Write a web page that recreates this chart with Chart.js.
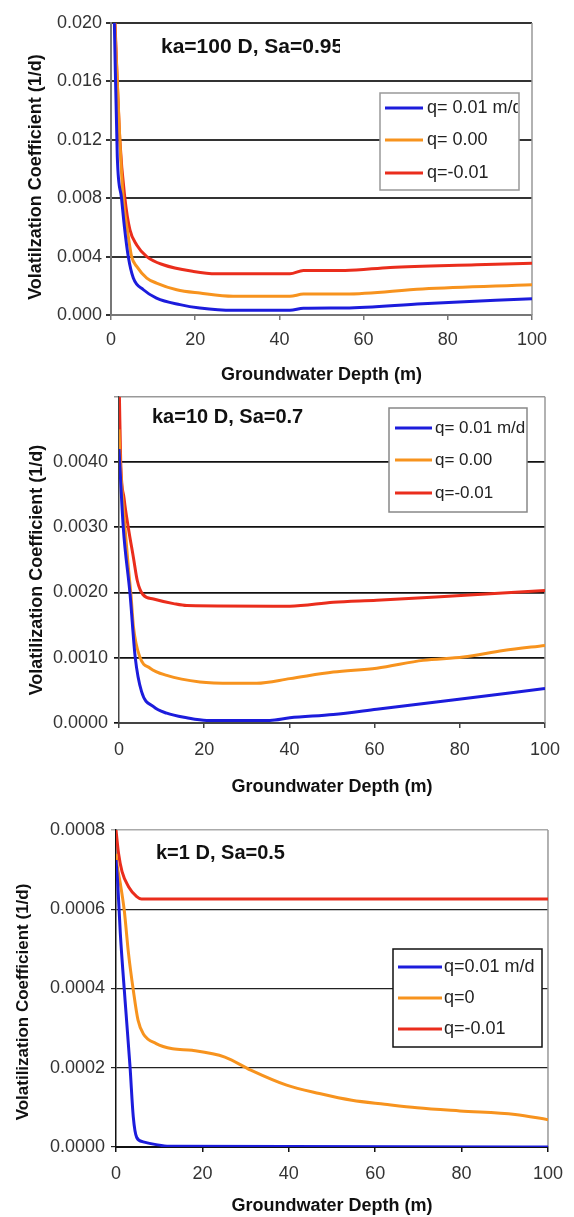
<!DOCTYPE html>
<html>
<head>
<meta charset="utf-8">
<script src="https://cdn.jsdelivr.net/npm/chart.js@4.4.0/dist/chart.umd.min.js"></script>
<style>
    body { margin: 0; background: #fff; width: 574px; height: 1217px; position: relative; overflow: hidden; }
    .panel { position: absolute; left: 0; width: 574px; }
</style>
</head>
<body>
<div class="panel" style="top:0;height:390px"><canvas id="chart1"></canvas></div>
<div class="panel" style="top:380px;height:420px"><canvas id="chart2"></canvas></div>
<div class="panel" style="top:800px;height:417px"><canvas id="chart3"></canvas></div>
<script>
// ---- data ----
const xTicks = [0, 20, 40, 60, 80, 100];

// Panel 1: ka=100 D, Sa=0.95
const labels1 = ['q= 0.01 m/d', 'q= 0.00', 'q=-0.01'];
const yTicks1 = [0, 0.004, 0.008, 0.012, 0.016, 0.020];
const blueDepth1 = [0.8, 1.5, 2.5, 3.2, 4.1, 5.3, 7.7, 10.8, 16.4, 21.1, 29, 42.5, 45.7, 55.6, 74, 100];
const blueVal1 = [0.020, 0.0108, 0.0080, 0.0060, 0.0040, 0.00253, 0.00173, 0.00116, 0.00071, 0.00048, 0.00032, 0.00032, 0.00046, 0.00048, 0.00077, 0.00112];
const orangeDepth1 = [0.9, 2.1, 2.9, 4.0, 4.9, 6.1, 8.5, 10.8, 15.6, 21.1, 29, 42.5, 45.7, 55.6, 74, 100];
const orangeVal1 = [0.020, 0.012, 0.008, 0.0056, 0.0040, 0.00333, 0.00253, 0.00219, 0.00173, 0.0015, 0.00128, 0.00128, 0.00143, 0.00143, 0.00178, 0.00207];
const redDepth1 = [0.95, 2.1, 3.3, 4.5, 6.1, 8.5, 12.4, 19.6, 25, 42.5, 45.7, 55.6, 66.3, 86.8, 100];
const redVal1 = [0.020, 0.012, 0.008, 0.00583, 0.0048, 0.0040, 0.00344, 0.00298, 0.00282, 0.00282, 0.00305, 0.00305, 0.00326, 0.00344, 0.00355];

// Panel 2: ka=10 D, Sa=0.7
const labels2 = ['q= 0.01 m/d', 'q= 0.00', 'q=-0.01'];
const yTicks2 = [0, 0.001, 0.002, 0.003, 0.004, 0.005];
const blueDepth2 = [0, 1.0, 2.6, 3.8, 5.3, 8.1, 11.2, 15.9, 20.6, 35.4, 40.1, 50.3, 60.5, 79.3, 100];
const blueVal2 = [0.0042, 0.0030, 0.00197, 0.00101, 0.00048, 0.00025, 0.00015, 0.00008, 0.00004, 0.00004, 0.00008, 0.00013, 0.00021, 0.00036, 0.00053];
const orangeDepth2 = [0, 0.3, 1.4, 2.2, 2.8, 3.4, 4.9, 7.3, 11.2, 19, 26.8, 32.3, 40.1, 50.3, 60.5, 71.4, 80.8, 90.2, 100];
const orangeVal2 = [0.0045, 0.0040, 0.0030, 0.00238, 0.00197, 0.00147, 0.00101, 0.00084, 0.00073, 0.00063, 0.00061, 0.00061, 0.00068, 0.00078, 0.00084, 0.00096, 0.00101, 0.00111, 0.00119];
const redDepth2 = [0.1, 0.4, 1.2, 2.2, 3.4, 4.3, 5.6, 8.1, 12.8, 15.9, 40.1, 50.3, 60.5, 79.3, 100];
const redVal2 = [0.0050, 0.0040, 0.00344, 0.00299, 0.00253, 0.00218, 0.00197, 0.0019, 0.00183, 0.0018, 0.00179, 0.00185, 0.00188, 0.00195, 0.00203];

// Panel 3: k=1 D, Sa=0.5
const labels3 = ['q=0.01 m/d', 'q=0', 'q=-0.01'];
const yTicks3 = [0, 0.0002, 0.0004, 0.0006, 0.0008];
const blueDepth3 = [0, 0.4, 1.0, 2.1, 3.25, 4.0, 4.8, 6.3, 9.3, 12.3, 100];
const blueVal3 = [0.000724, 0.000665, 0.000539, 0.00037, 0.000202, 0.000076, 0.000024, 0.000013, 0.000006, 0.000002, 0];
const orangeDepth3 = [0, 0.2, 1.0, 1.9, 2.9, 4.0, 5.1, 6.3, 9.3, 13.1, 17.6, 25.2, 31.2, 39.5, 47.1, 54.6, 62.2, 69.7, 79.6, 92.4, 100];
const orangeVal3 = [0.00074, 0.000716, 0.000665, 0.000598, 0.000488, 0.000396, 0.00032, 0.000286, 0.000261, 0.000248, 0.000244, 0.000227, 0.000194, 0.000156, 0.000135, 0.000118, 0.000108, 0.000099, 0.000091, 0.000082, 0.000069];
const redDepth3 = [0, 0.6, 1.4, 2.9, 4.8, 5.9, 100];
const redVal3 = [0.0008, 0.00074, 0.000695, 0.000657, 0.000632, 0.000626, 0.000626];

// ---- styling ----
const FONT = '"Liberation Sans", Arial, sans-serif';
const COLORS = ['#1c1cdc', '#f7931e', '#ea2d1c'];
const TICK_COLOR = '#333';
const TITLE_COLOR = '#111';

function pts(xs, ys) {
    return xs.map((x, i) => ({ x: x, y: ys[i] }));
}

// gray right frame, rotated y title, annotation text and the boxed legend
const panelDecor = {
    id: 'panelDecor',
    beforeDatasetsDraw(chart, args, opts) {
        const a = chart.chartArea;
        const ctx = chart.ctx;
        ctx.save();
        ctx.strokeStyle = '#999';
        ctx.lineWidth = 1.5;
        ctx.beginPath();
        ctx.moveTo(a.right, a.top);
        ctx.lineTo(a.right, a.bottom);
        ctx.stroke();
        ctx.restore();

        // y-axis title, placed where the scan has it (a bit below centre)
        const t = opts.yTitle;
        ctx.save();
        ctx.translate(t.x, t.y);
        ctx.rotate(-Math.PI / 2);
        ctx.fillStyle = TITLE_COLOR;
        ctx.font = 'bold ' + t.size + 'px ' + FONT;
        ctx.textAlign = 'center';
        ctx.textBaseline = 'middle';
        ctx.fillText(t.text, 0, 0);
        ctx.restore();
    },
    afterDatasetsDraw(chart, args, opts) {
        const ctx = chart.ctx;
        const n = opts.note;
        ctx.save();
        ctx.beginPath();
        ctx.rect(0, 0, n.clipRight, chart.height);
        ctx.clip();
        ctx.fillStyle = TITLE_COLOR;
        ctx.font = 'bold ' + n.size + 'px ' + FONT;
        ctx.textBaseline = 'middle';
        ctx.textAlign = 'left';
        ctx.fillText(n.text, n.x, n.y);
        ctx.restore();

        const b = opts.box;
        ctx.save();
        ctx.fillStyle = '#fff';
        ctx.fillRect(b.x, b.y, b.w, b.h);
        ctx.strokeStyle = b.border;
        ctx.lineWidth = b.borderWidth;
        ctx.strokeRect(b.x, b.y, b.w, b.h);
        ctx.beginPath();
        ctx.rect(b.x, b.y, b.w - 1, b.h);
        ctx.clip();
        ctx.font = b.size + 'px ' + FONT;
        ctx.textBaseline = 'middle';
        ctx.textAlign = 'left';
        chart.data.datasets.forEach((ds, i) => {
            const y = b.rows[i];
            ctx.strokeStyle = ds.borderColor;
            ctx.lineWidth = 3;
            ctx.beginPath();
            ctx.moveTo(b.lineX[0], y);
            ctx.lineTo(b.lineX[1], y);
            ctx.stroke();
            ctx.fillStyle = '#222';
            ctx.fillText(ds.label, b.textX, y);
        });
        ctx.restore();
    }
};

function buildChart(id, p) {
    const ctx = document.getElementById(id).getContext('2d');
    const yMax = p.yTicks[p.yTicks.length - 1];

    return new Chart(ctx, {
        type: 'line',
        data: {
            datasets: p.series.map((s, i) => ({
                label: p.labels[i],
                data: pts(s[0], s[1]),
                borderColor: COLORS[i],
                borderWidth: p.lineWidth,
                pointRadius: 0,
                cubicInterpolationMode: 'monotone',
                fill: false
            }))
        },
        options: {
            responsive: true,
            maintainAspectRatio: false,
            animation: false,
            layout: { padding: p.padding },
            plugins: {
                legend: { display: false },
                tooltip: { enabled: false },
                panelDecor: { note: p.note, box: p.box, yTitle: p.yTitle }
            },
            scales: {
                x: {
                    type: 'linear',
                    min: 0,
                    max: 100,
                    afterBuildTicks: s => { s.ticks = xTicks.map(v => ({ value: v })); },
                    afterFit: s => { s.height = p.xHeight; },
                    ticks: {
                        color: TICK_COLOR,
                        font: { family: FONT, size: 18 },
                        padding: p.xTickPad,
                        maxRotation: 0,
                        callback: v => String(v)
                    },
                    grid: {
                        drawOnChartArea: false,
                        drawTicks: true,
                        tickLength: 5,
                        color: p.axisColor,
                        lineWidth: 1.5
                    },
                    border: { color: p.axisColor, width: 2 },
                    title: {
                        display: true,
                        text: 'Groundwater Depth (m)',
                        color: TITLE_COLOR,
                        font: { family: FONT, size: 18, weight: 'bold' },
                        padding: { top: 0, bottom: p.xTitlePad }
                    }
                },
                y: {
                    min: 0,
                    max: yMax,
                    afterBuildTicks: s => { s.ticks = p.yTicks.map(v => ({ value: v })); },
                    afterFit: s => { s.width = p.yWidth; },
                    ticks: {
                        color: TICK_COLOR,
                        font: { family: FONT, size: 18 },
                        padding: p.yTickPad,
                        callback: v => (p.hideTop && v === yMax) ? '' : v.toFixed(p.decimals)
                    },
                    grid: {
                        color: c => (c.tick && c.tick.value === yMax) ? p.topColor : p.gridColor,
                        lineWidth: c => (c.tick && c.tick.value === yMax) ? p.topWidth : p.gridWidth,
                        tickLength: 5
                    },
                    border: { color: p.axisColor, width: p.axisWidth }
                }
            }
        },
        plugins: [panelDecor]
    });
}

document.addEventListener('DOMContentLoaded', () => {
    buildChart('chart1', {
        labels: labels1,
        series: [[blueDepth1, blueVal1], [orangeDepth1, orangeVal1], [redDepth1, redVal1]],
        yTicks: yTicks1,
        decimals: 3,
        hideTop: false,
        padding: { left: 0, top: 23, right: 42, bottom: 0 },
        yWidth: 111,
        xHeight: 75,
        xTickPad: 9,
        yTickPad: 4,
        xTitlePad: 4,
        lineWidth: 3,
        gridColor: '#333',
        gridWidth: 2,
        topColor: '#333',
        topWidth: 2,
        axisColor: '#777',
        axisWidth: 2,
        yTitle: { text: 'Volatilzation Coefficient (1/d)', x: 36, y: 177, size: 18 },
        note: { text: 'ka=100 D, Sa=0.95', x: 161, y: 47, size: 21, clipRight: 340 },
        box: { x: 380, y: 93, w: 139, h: 97, rows: [108, 140, 173], lineX: [385, 423], textX: 427, size: 18, border: '#999', borderWidth: 1.5 }
    });

    buildChart('chart2', {
        labels: labels2,
        series: [[blueDepth2, blueVal2], [orangeDepth2, orangeVal2], [redDepth2, redVal2]],
        yTicks: yTicks2,
        decimals: 4,
        hideTop: true,
        padding: { left: 0, top: 15, right: 29, bottom: 0 },
        yWidth: 119,
        xHeight: 77,
        xTickPad: 11,
        yTickPad: 6,
        xTitlePad: 2,
        lineWidth: 3,
        gridColor: '#111',
        gridWidth: 1.7,
        topColor: '#999',
        topWidth: 1.5,
        axisColor: '#444',
        axisWidth: 1.5,
        yTitle: { text: 'Volatilization Coefficient (1/d)', x: 37, y: 190, size: 18 },
        note: { text: 'ka=10 D, Sa=0.7', x: 152, y: 37, size: 20, clipRight: 574 },
        box: { x: 389, y: 28, w: 138, h: 104, rows: [48, 80, 113], lineX: [395, 432], textX: 435, size: 17, border: '#888', borderWidth: 1.5 }
    });

    buildChart('chart3', {
        labels: labels3,
        series: [[blueDepth3, blueVal3], [orangeDepth3, orangeVal3], [redDepth3, redVal3]],
        yTicks: yTicks3,
        decimals: 4,
        hideTop: false,
        padding: { left: 0, top: 30, right: 17, bottom: 0 },
        yWidth: 116,
        xHeight: 70,
        xTickPad: 11,
        yTickPad: 6,
        xTitlePad: 0,
        lineWidth: 3,
        gridColor: '#222',
        gridWidth: 1.2,
        topColor: '#aaa',
        topWidth: 1.5,
        axisColor: '#111',
        axisWidth: 1.5,
        yTitle: { text: 'Volatilization Coefficient (1/d)', x: 23, y: 202, size: 17 },
        note: { text: 'k=1 D, Sa=0.5', x: 156, y: 53, size: 20, clipRight: 574 },
        box: { x: 393, y: 149, w: 149, h: 98, rows: [167, 198, 229], lineX: [398, 442], textX: 444, size: 18, border: '#111', borderWidth: 1.5 }
    });
});
</script>
</body>
</html>
